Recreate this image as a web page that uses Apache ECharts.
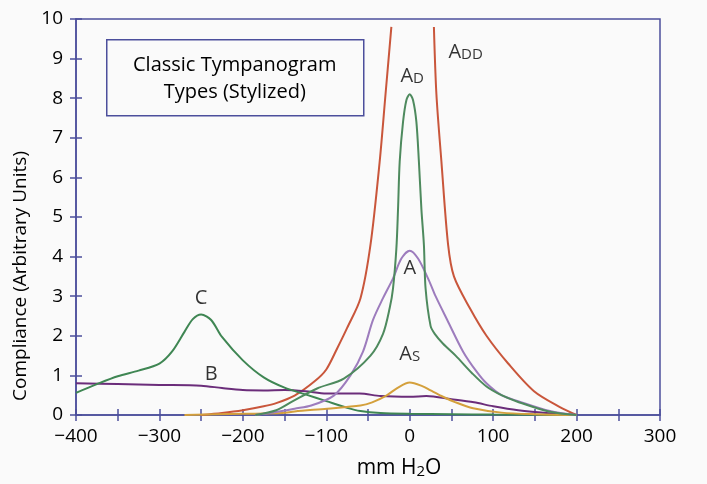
<!DOCTYPE html>
<html>
<head>
<meta charset="utf-8">
<script src="https://cdn.jsdelivr.net/npm/echarts@6/dist/echarts.min.js"></script>
<style>
html,body{margin:0;padding:0;background:#fafafa;}
#chart{width:707px;height:484px;}
</style>
</head>
<body>
<div id="chart"></div>
<script>
// ---- data (x: mm H2O, y: compliance, arbitrary units) ----
const xTicks = [-400, -300, -200, -100, 0, 100, 200, 300];
const yTicks = [0, 1, 2, 3, 4, 5, 6, 7, 8, 9, 10];

const typeADD = [[-250,0],[-225,0.05],[-200,0.12],[-175,0.22],[-160,0.3],[-138,0.49],[-114,0.85],[-100,1.15],[-87,1.68],[-75,2.2],[-59,2.95],[-47,4.3],[-36,6.4],[-29,8.1],[-22,9.8],
  [0,'-'],
  [29,9.8],[32,8.1],[38,6.4],[46,4.3],[53,3.5],[72,2.7],[92,2.0],[118,1.3],[149,0.6],[180,0.2],[200,0]];
const typeAD = [[-185,0],[-160,0.12],[-140,0.35],[-111,0.67],[-79,0.92],[-47,1.5],[-32,2.05],[-24,2.7],[-20,3.2],[-16,4.2],[-14,5.2],[-12,6.4],[-8,7.4],[-4,7.95],[0,8.1],[4,7.95],[8,7.4],[11,6.4],[14,5.2],[17,4.3],[19,3.2],[25,2.25],[30,2.05],[40,1.8],[55,1.5],[75,1.05],[92,0.72],[110,0.5],[130,0.33],[168,0.08],[200,0]];
const typeA = [[-185,0],[-153,0.1],[-138,0.16],[-118,0.24],[-91,0.49],[-71,1.0],[-56,1.6],[-44,2.4],[-32,2.95],[-20,3.45],[-10,3.95],[0,4.15],[10,3.95],[23,3.4],[31,3.0],[45,2.4],[64,1.6],[80,1.1],[92,0.8],[110,0.5],[130,0.35],[168,0.1],[200,0]];
const typeAS = [[-270,0],[-200,0.03],[-153,0.05],[-138,0.09],[-99,0.16],[-59,0.24],[-45,0.32],[-28,0.49],[-15,0.68],[0,0.82],[15,0.73],[25,0.62],[38,0.48],[55,0.32],[76,0.17],[110,0.06],[150,0.02],[200,0]];
const typeB = [[-400,0.8],[-350,0.78],[-300,0.76],[-250,0.74],[-225,0.68],[-200,0.63],[-175,0.62],[-150,0.63],[-125,0.6],[-100,0.54],[-60,0.54],[-35,0.48],[0,0.46],[20,0.48],[50,0.4],[77,0.32],[100,0.22],[130,0.12],[170,0.04],[200,0]];
const typeC = [[-400,0.56],[-375,0.78],[-350,0.98],[-325,1.12],[-300,1.3],[-285,1.6],[-270,2.1],[-260,2.42],[-250,2.54],[-238,2.4],[-225,1.97],[-200,1.38],[-175,0.95],[-150,0.69],[-125,0.52],[-100,0.35],[-75,0.18],[-59,0.1],[-35,0.05],[0,0.03],[50,0.02],[100,0.01],[200,0]];

const labelNames = ['{a|A}{s|DD}', '{a|A}{s|D}', '{a|A}', '{a|A}{s|S}', '{a|C}', '{a|B}'];
const labelX = [67, 3, 0, 0, -250, -238];
const labelY = [9.2, 8.6, 3.75, 1.58, 3.0, 1.08];

const titleLines = ['Classic Tympanogram', 'Types (Stylized)'];
const yAxisTitle = 'Compliance (Arbitrary Units)';

// ---- styles ----
const axisColor = '#4c4f9c';
const textColor = '#000000';
const font = '"Open Sans", "Noto Sans", sans-serif';

function fmtX(v){ if (v % 100 !== 0) return ''; return v < 0 ? '\u2212' + Math.abs(v) : String(v); }

function lineSeries(name, data, color){
  return { name, type:'line', data, smooth:0.3, showSymbol:false, connectNulls:false,
    lineStyle:{ color, width:2 }, itemStyle:{ color }, z:3 };
}

const chart = echarts.init(document.getElementById('chart'), null, {renderer:'canvas'});
const richSub = {
  a:{ fontFamily:font, fontSize:20, color:textColor, lineHeight:24, verticalAlign:'bottom' },
  s:{ fontFamily:font, fontSize:15, color:textColor, lineHeight:24, padding:[10,0,0,0], verticalAlign:'bottom' }
};

const option = {
  backgroundColor:'#fafafa',
  animation:false,
  grid:{ left:76, right:47, top:19, bottom:65, show:true, borderColor:axisColor, borderWidth:1.5, backgroundColor:'transparent' },
  xAxis:[{
    type:'value', min:-400, max:300, interval:50,
    axisLine:{ show:true, onZero:false, lineStyle:{ color:axisColor, width:1.5 } },
    axisTick:{ show:true, length:6, lineStyle:{ color:axisColor, width:1.5 } },
    axisLabel:{ formatter:fmtX, color:textColor, fontSize:19, fontFamily:font, margin:12, showMinLabel:true, showMaxLabel:true },
    splitLine:{ show:false },
    name:'{a|mm H}{s|2}{a|O}', nameLocation:'middle', nameGap:40,
    nameTextStyle:{ padding:[0,0,0,62], rich:{
      a:{ fontFamily:font, fontSize:21, color:textColor, lineHeight:24, verticalAlign:'bottom' },
      s:{ fontFamily:font, fontSize:15, color:textColor, lineHeight:24, padding:[9,0,0,0], verticalAlign:'bottom' } } }
  },{
    type:'value', min:-400, max:300, interval:50, position:'bottom',
    axisLine:{ show:false, onZero:false }, axisTick:{ show:true, inside:true, length:6, lineStyle:{ color:axisColor, width:1.5 } },
    axisLabel:{ show:false }, splitLine:{ show:false }
  }],
  yAxis:[{
    type:'value', min:0, max:10, interval:1,
    axisLine:{ show:true, onZero:false, lineStyle:{ color:axisColor, width:1.5 } },
    axisTick:{ show:true, length:6, lineStyle:{ color:axisColor, width:1.5 } },
    axisLabel:{ color:textColor, fontSize:19, fontFamily:font, margin:13 },
    splitLine:{ show:false },
    name:yAxisTitle, nameLocation:'middle', nameGap:44, nameRotate:90,
    nameTextStyle:{ color:textColor, fontSize:19, fontFamily:font, padding:[0,118,0,0] }
  },{
    type:'value', min:0, max:10, interval:1, position:'left',
    axisLine:{ show:false, onZero:false }, axisTick:{ show:true, inside:true, length:6, lineStyle:{ color:axisColor, width:1.5 } },
    axisLabel:{ show:false }, splitLine:{ show:false }
  }],
  graphic:[{
    type:'group', left:106, top:39,
    children:[
      { type:'rect', shape:{ x:0, y:0, width:257, height:76 }, style:{ fill:'transparent', stroke:axisColor, lineWidth:1.5 } },
      { type:'text', style:{ x:128, y:26, text:titleLines[0], textAlign:'center', textVerticalAlign:'middle', fill:textColor, font:'20px ' + font } },
      { type:'text', style:{ x:128, y:53, text:titleLines[1], textAlign:'center', textVerticalAlign:'middle', fill:textColor, font:'20px ' + font } }
    ]
  }],
  series:[
    lineSeries('ADD', typeADD, '#c9563b'),
    lineSeries('B', typeB, '#6b2d7a'),
    lineSeries('C', typeC, '#3f8653'),
    lineSeries('AS', typeAS, '#d4a03c'),
    lineSeries('A', typeA, '#9d7cbd'),
    lineSeries('AD', typeAD, '#4e8a5e'),
    {
      type:'scatter', symbolSize:0, silent:true, z:5,
      data: labelNames.map((n,i)=>({ name:n, value:[labelX[i], labelY[i]] })),
      label:{ show:true, position:'inside', formatter:p=>p.name, rich:richSub }
    }
  ]
};
chart.setOption(option);
</script>
</body>
</html>
